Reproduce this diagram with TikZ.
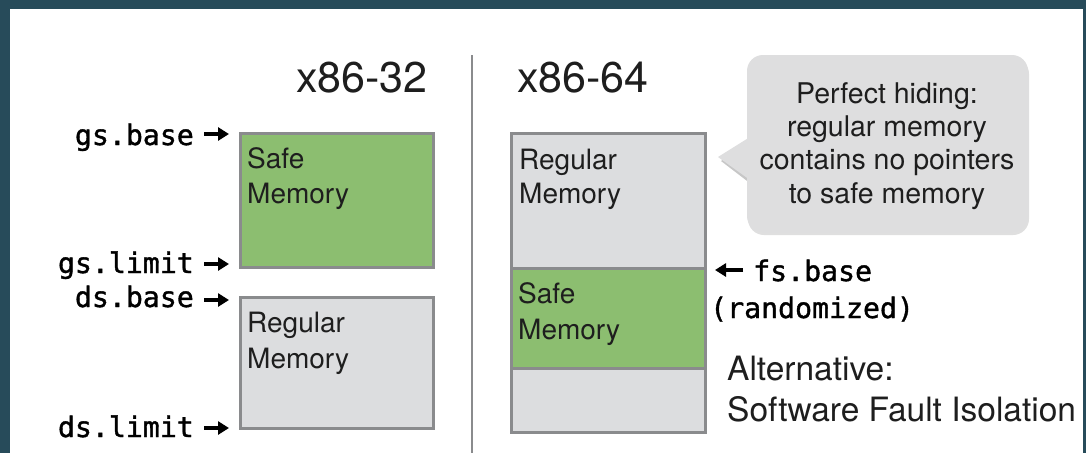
\documentclass[tikz,border=0pt]{standalone}
\usepackage{fontspec}
\setmainfont{TeX Gyre Heros}
\newfontfamily\codefont[FakeBold=1.3]{DejaVu Sans Mono}
\usetikzlibrary{arrows.meta,shadows}

\definecolor{slate}{HTML}{274B5A}
\definecolor{safegreen}{HTML}{8CBE70}
\definecolor{reggray}{HTML}{DCDDDF}
\definecolor{edgegray}{HTML}{8A8B8D}
\definecolor{notegray}{HTML}{DEDEDF}
\definecolor{ink}{HTML}{1E1E1E}

\begin{document}
\begin{tikzpicture}[x=1pt,y=-1pt,
  mem/.style={draw=edgegray, line width=3pt, minimum width=193pt,
              anchor=north west, inner sep=0pt, outer sep=0pt},
  safe/.style={mem, fill=safegreen},
  plain/.style={mem, fill=reggray},
  boxtxt/.style={font=\fontsize{28}{34}\selectfont, text=ink,
                 anchor=base west, inner sep=0pt},
  title/.style={font=\fontsize{43}{50}\selectfont, text=ink,
                anchor=base west, inner sep=0pt},
  notetxt/.style={font=\fontsize{28.5}{34}\selectfont, text=ink,
                  anchor=base, inner sep=0pt},
  sidetxt/.style={font=\fontsize{33.5}{40}\selectfont, text=ink,
                  anchor=base west, inner sep=0pt},
  reg/.style={font=\codefont\fontsize{28.2}{34}\selectfont, text=black,
              inner sep=0pt},
  ptr/.style={draw=black, line width=3.2pt,
              -{Triangle[length=11pt,width=13pt]}},
]
\useasboundingbox (0,0) rectangle (1086,453);

% backdrop and white slide area
\fill[slate] (0,0) rectangle (1086,453);
\fill[white] (10,9) rectangle (1083,453);

% divider between the two layouts
\coordinate (divtop) at (472,55);
\coordinate (divbot) at (472,453);
\draw[edgegray, line width=2.5pt] (divtop) -- (divbot);

% titles
\node[title] (t32) at (296,92) {x86-32};
\node[title] (t64) at (517,92) {x86-64};

% ---- x86-32: segment-based layout ----
\node[safe, minimum height=134pt] (safe32) at (240,133) {};
\node[plain, minimum height=131pt] (reg32) at (240,297) {};
\node[boxtxt] (safe32a) at (247,168) {Safe};
\node[boxtxt] (safe32b) at (247,203) {Memory};
\node[boxtxt] (reg32a) at (247,332) {Regular};
\node[boxtxt] (reg32b) at (247,368) {Memory};

\node[reg, anchor=base east] (gsb) at (194,145) {gs.base};
\node[reg, anchor=base east] (gsl) at (194,273) {gs.limit};
\node[reg, anchor=base east] (dsb) at (194,307) {ds.base};
\node[reg, anchor=base east] (dsl) at (194,437) {ds.limit};

\coordinate (gsbtip) at (229,134);
\coordinate (gsltip) at (229,264);
\coordinate (dsbtip) at (229,300);
\coordinate (dsltip) at (229,428);
\draw[ptr] ([xshift=10pt]gsb.east |- gsbtip) -- (gsbtip);
\draw[ptr] ([xshift=10pt]gsl.east |- gsltip) -- (gsltip);
\draw[ptr] ([xshift=10pt]dsb.east |- dsbtip) -- (dsbtip);
\draw[ptr] ([xshift=10pt]dsl.east |- dsltip) -- (dsltip);

% ---- x86-64: single address space ----
\node[plain, minimum width=194pt, minimum height=135pt] (reg64) at (511,133) {};
\node[plain, minimum width=194pt, minimum height=64pt] (rest64) at (511,368) {};
\node[safe, minimum width=194pt, minimum height=100pt] (safe64) at (511,268) {};
\node[boxtxt] (reg64a) at (519,169) {Regular};
\node[boxtxt] (reg64b) at (519,203) {Memory};
\node[boxtxt] (safe64a) at (518,303) {Safe};
\node[boxtxt] (safe64b) at (518,339) {Memory};

\node[reg, anchor=base west] (fsb) at (753,281) {fs.base};
\node[reg, anchor=base west] (rnd) at (710,318) {(randomized)};
\coordinate (fstip) at (715,270);
\draw[ptr] ([xshift=-10pt]fsb.west |- fstip) -- (fstip);

\node[sidetxt] (alt1) at (727,380) {Alternative:};
\node[sidetxt] (alt2) at (727,421) {Software Fault Isolation};

% ---- speech bubble ----
\fill[black, opacity=.22] (721,161) -- (751,141) -- (751,184) -- cycle;
\node[fill=notegray, minimum width=281pt, minimum height=177pt,
      rounded corners=16pt, inner sep=0pt,
      drop shadow={shadow xshift=1pt, shadow yshift=-3pt, opacity=.25}]
      (note) at (887.5,143.5) {};
\fill[notegray] (718,157) -- (750,137) -- (750,180) -- cycle;
\node[notetxt] (n1) at (887,103) {Perfect hiding:};
\node[notetxt] (n2) at (887,136) {regular memory};
\node[notetxt] (n3) at (887,169) {contains no pointers};
\node[notetxt] (n4) at (887,203) {to safe memory};
\end{tikzpicture}
\end{document}
